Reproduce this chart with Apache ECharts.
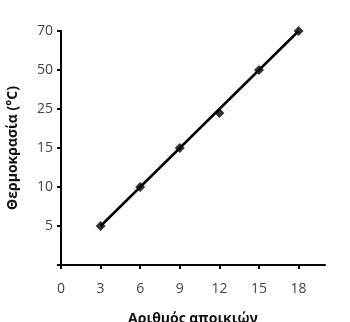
<!DOCTYPE html>
<html>
<head>
<meta charset="utf-8">
<script src="https://cdn.jsdelivr.net/npm/echarts@6/dist/echarts.min.js"></script>
<style>
  html, body { margin: 0; padding: 0; background: #fff; }
  #chart { width: 350px; height: 322px; }
</style>
</head>
<body>
<div id="chart"></div>
<script>
// Colonies counted (x) and measured temperature (y)
const colonies = [3, 6, 9, 12, 15, 18];
const temperatures = [5, 10, 15, 24, 50, 70];
// Y-axis tick labels, placed at equal steps (non-linear scale)
const yTickLabels = [5, 10, 15, 25, 50, 70];
const xTickLabels = [0, 3, 6, 9, 12, 15, 18];
// Straight trend line drawn across the data
const trendX = [3, 18];
const trendY = [5, 70];

// Map a temperature onto the equally spaced tick scale (tick i sits at i+1)
function toScale(t) {
  const stops = [0].concat(yTickLabels);
  for (let i = 0; i < stops.length - 1; i++) {
    if (t <= stops[i + 1]) {
      return i + (t - stops[i]) / (stops[i + 1] - stops[i]);
    }
  }
  return stops.length - 1;
}

const labelColor = '#454545';
const chart = echarts.init(document.getElementById('chart'), null, { renderer: 'canvas' });

chart.setOption({
  animation: false,
  grid: { left: 61, top: 31, right: 25, bottom: 57, containLabel: false, outerBoundsMode: 'none' },
  xAxis: {
    type: 'value',
    min: 0,
    max: 20,
    interval: 3,
    name: 'Αριθμός αποικιών',
    nameLocation: 'middle',
    nameGap: 47,
    nameTextStyle: { color: '#111', fontSize: 14, fontWeight: 'bold', fontFamily: 'Open Sans' },
    axisLine: { lineStyle: { color: '#000', width: 2 } },
    axisTick: { show: true, customValues: xTickLabels, length: 4, lineStyle: { color: '#000', width: 2 } },
    axisLabel: { customValues: xTickLabels, margin: 17, color: labelColor, fontSize: 14, fontFamily: 'Open Sans' },
    splitLine: { show: false }
  },
  yAxis: {
    type: 'value',
    min: 0,
    max: 6,
    interval: 1,
    name: 'Θερμοκρασία (°C)',
    nameLocation: 'middle',
    nameGap: 41,
    nameTextStyle: { color: '#111', fontSize: 14, fontWeight: 'bold', fontFamily: 'Open Sans' },
    axisLine: { show: true, lineStyle: { color: '#000', width: 2 } },
    axisTick: { show: true, length: 4, lineStyle: { color: '#000', width: 2 } },
    axisLabel: {
      margin: 8,
      color: labelColor,
      fontSize: 14,
      fontFamily: 'Open Sans',
      formatter: function (v) { return v >= 1 ? String(yTickLabels[Math.round(v) - 1]) : ''; }
    },
    splitLine: { show: false }
  },
  series: [
    {
      type: 'line',
      data: trendX.map((x, i) => [x, toScale(trendY[i])]),
      symbol: 'none',
      lineStyle: { color: '#000', width: 2.5 },
      z: 2
    },
    {
      type: 'scatter',
      data: colonies.map((x, i) => [x, toScale(temperatures[i])]),
      symbol: 'diamond',
      symbolSize: 10,
      itemStyle: { color: '#000' },
      z: 3
    }
  ]
});
</script>
</body>
</html>
